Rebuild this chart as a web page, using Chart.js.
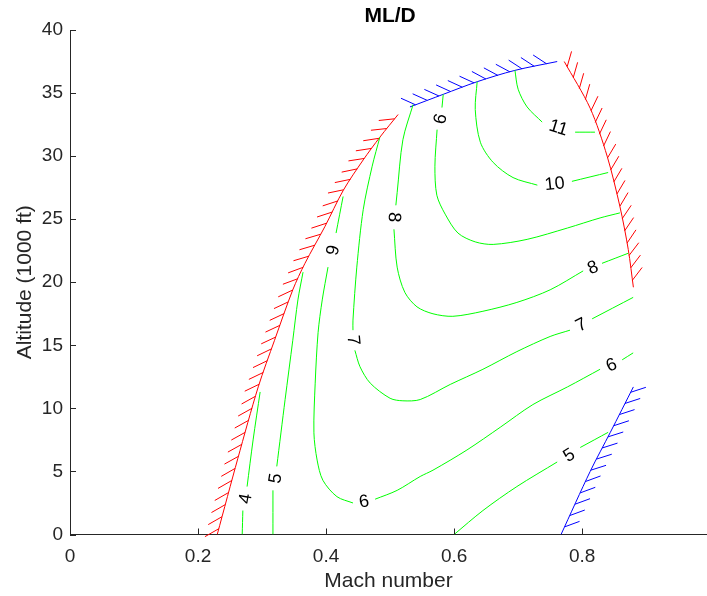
<!DOCTYPE html>
<html>
<head>
<meta charset="utf-8">
<script src="https://cdn.jsdelivr.net/npm/chart.js@4/dist/chart.umd.min.js"></script>
<style>
  html, body { margin: 0; padding: 0; background: #fff; }
</style>
</head>
<body>
<canvas id="chart" width="707" height="596"></canvas>
<script>
// tick values
const machTicks = [0, 0.2, 0.4, 0.6, 0.8];
const altTicks = [0, 5, 10, 15, 20, 25, 30, 35, 40];

// limit lines (hatched)
const stallMach = [0.23, 0.262, 0.294, 0.3195, 0.348, 0.367, 0.398, 0.427, 0.458, 0.484, 0.5125];
const stallAlt = [0, 6.0, 11.7, 15.4, 19.4, 21.5, 24.4, 27.3, 29.7, 31.5, 33.3];
const ceilingMach = [0.531, 0.583, 0.636, 0.695, 0.761];
const ceilingAlt = [33.9, 34.9, 35.9, 36.8, 37.5];
const buffetMach = [0.772, 0.8125, 0.839, 0.859, 0.872, 0.880];
const buffetAlt = [37.5, 33.8, 30.0, 26.0, 22.6, 19.6];
const qLimitMach = [0.880, 0.844, 0.8125, 0.767];
const qLimitAlt = [11.7, 8.1, 5.0, 0];

// ML/D contours (null = gap where the level label sits)
const c4Mach = [0.269, 0.270, null, 0.2766, 0.286, 0.297];
const c4Alt = [0, 1.9, null, 3.8, 7.5, 11.3];
const c5aMach = [0.317, 0.317, null, 0.323, 0.336, 0.348, 0.356, 0.364];
const c5aAlt = [0, 3.5, null, 5.4, 10.7, 15.4, 18.6, 20.8];
const c5bMach = [0.6, 0.645, 0.698, 0.761, null, 0.797, 0.8406];
const c5bAlt = [0, 1.9, 3.8, 5.75, null, 6.9, 8.1];
const c6Mach = [0.4266, 0.4156, null, 0.403, 0.394, 0.3875, 0.383, 0.381, 0.386, 0.395, 0.417, 0.442, null,
  0.4766, 0.511, 0.547, 0.567, 0.620, 0.672, 0.723, 0.777, 0.828, null, 0.8625, 0.8797];
const c6Alt = [26.8, 23.9, null, 21.2, 18.6, 16.0, 12.0, 8.06, 5.9, 4.3, 3.0, 2.5, null,
  2.8, 3.5, 4.6, 5.1, 6.7, 8.5, 10.3, 11.7, 13.1, null, 13.85, 14.4];
const c7Mach = [0.484, 0.472, 0.458, 0.448, 0.442, 0.442, null, 0.445, 0.453, 0.469, 0.5, 0.520, 0.547,
  0.594, 0.645, 0.698, 0.75, 0.781, null, 0.8156, 0.8797];
const c7Alt = [31.5, 29.2, 25.75, 21.2, 17.0, 16.2, null, 14.6, 13.3, 12.0, 10.8, 10.6, 10.7,
  11.9, 13.1, 14.5, 15.7, 16.2, null, 17.1, 18.8];
const c8Mach = [0.536, 0.520, 0.511, 0.509, null, 0.506, 0.511, 0.523, 0.542, 0.567, 0.598, 0.645,
  0.698, 0.75, 0.8016, null, 0.831, 0.872];
const c8Alt = [34.1, 31.3, 27.1, 26.1, null, 24.2, 21.2, 19.2, 18.05, 17.5, 17.3, 17.7,
  18.4, 19.4, 20.9, null, 21.5, 22.3];
const c9Mach = [0.583, 0.581, null, 0.5734, 0.570, 0.573, 0.586, 0.606, 0.633, 0.661, 0.714, 0.777, 0.828, 0.859];
const c9Alt = [34.9, 33.85, null, 32.1, 29.2, 26.9, 25.4, 23.9, 23.2, 23.0, 23.4, 24.3, 25.1, 25.5];
const c10Mach = [0.636, 0.633, 0.641, 0.661, 0.692, 0.730, null, 0.784, 0.8406];
const c10Alt = [35.9, 33.7, 31.1, 29.5, 28.3, 27.7, null, 28.0, 28.7];
const c11Mach = [0.695, 0.700, 0.714, 0.7375, null, 0.789, 0.820];
const c11Alt = [36.8, 35.3, 33.9, 32.7, null, 31.9, 31.9];

const FONT = '"Liberation Sans", Arial, Helvetica, sans-serif';
const AXIS = '#262626';

function pts(mach, alt) {
  return mach.map((m, i) => ({ x: m, y: alt[i] }));
}
function contour(mach, alt, level) {
  return { data: pts(mach, alt), level: level, borderColor: '#00ff00', borderWidth: 1,
    showLine: true, pointRadius: 0, fill: false, spanGaps: false, tension: 0.3 };
}
function limit(mach, alt, color) {
  return { data: pts(mach, alt), hatch: true, borderColor: color, borderWidth: 1,
    showLine: true, pointRadius: 0, fill: false, tension: 0.3 };
}

// hatch marks, contour labels, inward ticks and title
const decor = {
  id: 'decor',
  afterDatasetsDraw(chart) {
    const ctx = chart.ctx;
    const xs = chart.scales.x, ys = chart.scales.y;
    const step = 12.5, len = 16, ang = Math.PI / 4;

    chart.data.datasets.forEach((ds, i) => {
      const els = chart.getDatasetMeta(i).data;
      if (ds.hatch) {
        ctx.save();
        ctx.strokeStyle = ds.borderColor;
        ctx.lineWidth = 1;
        ctx.beginPath();
        let acc = 0, next = 6;
        for (let k = 0; k < els.length - 1; k++) {
          const p0 = els[k], p1 = els[k + 1];
          const dx = p1.x - p0.x, dy = p1.y - p0.y;
          const L = Math.hypot(dx, dy);
          const tx = -dx / L, ty = -dy / L;
          const hx = tx * Math.cos(ang) - ty * Math.sin(ang);
          const hy = tx * Math.sin(ang) + ty * Math.cos(ang);
          while (next <= acc + L) {
            const f = (next - acc) / L;
            const px = p0.x + dx * f, py = p0.y + dy * f;
            ctx.moveTo(px, py);
            ctx.lineTo(px + hx * len, py + hy * len);
            next += step;
          }
          acc += L;
        }
        ctx.stroke();
        ctx.restore();
      }
      if (ds.level !== undefined) {
        ds.data.forEach((d, k) => {
          if (d.y !== null) return;
          const a = els[k - 1], b = els[k + 1];
          const mx = (a.x + b.x) / 2, my = (a.y + b.y) / 2;
          ctx.save();
          ctx.translate(mx, my);
          ctx.rotate(Math.atan2(b.y - a.y, b.x - a.x));
          ctx.fillStyle = '#000';
          ctx.font = '18px ' + FONT;
          ctx.textAlign = 'center';
          ctx.textBaseline = 'middle';
          ctx.fillText(String(ds.level), 0, 1);
          ctx.restore();
        });
      }
    });

    // inward tick marks
    ctx.save();
    ctx.strokeStyle = AXIS;
    ctx.lineWidth = 1;
    ctx.beginPath();
    machTicks.forEach(v => {
      const x = Math.round(xs.getPixelForValue(v)) + 0.5;
      ctx.moveTo(x, ys.bottom);
      ctx.lineTo(x, ys.bottom - 6);
    });
    altTicks.forEach(v => {
      const y = Math.round(ys.getPixelForValue(v)) + 0.5;
      ctx.moveTo(xs.left, y);
      ctx.lineTo(xs.left + 6, y);
    });
    ctx.stroke();

    // title centred over the full axis box
    ctx.fillStyle = '#000';
    ctx.font = 'bold 21px ' + FONT;
    ctx.textAlign = 'center';
    ctx.textBaseline = 'middle';
    ctx.fillText('ML/D', (xs.left + xs.getPixelForValue(1.0)) / 2, 16);
    ctx.restore();
  }
};

new Chart(document.getElementById('chart'), {
  type: 'scatter',
  data: {
    datasets: [
      contour(c4Mach, c4Alt, 4),
      contour(c5aMach, c5aAlt, 5),
      contour(c5bMach, c5bAlt, 5),
      contour(c6Mach, c6Alt, 6),
      contour(c7Mach, c7Alt, 7),
      contour(c8Mach, c8Alt, 8),
      contour(c9Mach, c9Alt, 9),
      contour(c10Mach, c10Alt, 10),
      contour(c11Mach, c11Alt, 11),
      limit(stallMach, stallAlt, '#ff0000'),
      limit(ceilingMach, ceilingAlt, '#0000ff'),
      limit(buffetMach, buffetAlt, '#ff0000'),
      limit(qLimitMach, qLimitAlt, '#0000ff')
    ]
  },
  options: {
    responsive: false,
    animation: false,
    devicePixelRatio: 1,
    layout: { padding: { top: 30, right: 0, left: 0, bottom: 0 } },
    plugins: { legend: { display: false }, tooltip: { enabled: false }, title: { display: false } },
    scales: {
      x: {
        type: 'linear',
        min: 0,
        max: 0.995,
        afterBuildTicks: s => { s.ticks = machTicks.map(v => ({ value: v })); },
        afterFit: s => { s.height = 61.5; },
        grid: { display: false, drawTicks: false },
        border: { display: true, color: AXIS, width: 1 },
        ticks: {
          color: AXIS, padding: 11, maxRotation: 0,
          font: { family: FONT, size: 19 },
          callback: v => String(+v.toFixed(1))
        },
        title: {
          display: true, text: 'Mach number', color: AXIS,
          font: { family: FONT, size: 21 }, padding: { top: 0, bottom: 2 }
        }
      },
      y: {
        type: 'linear',
        min: 0,
        max: 40,
        afterBuildTicks: s => { s.ticks = altTicks.map(v => ({ value: v })); },
        afterFit: s => { s.width = 70; },
        grid: { display: false, drawTicks: false },
        border: { display: true, color: AXIS, width: 1 },
        ticks: {
          color: AXIS, padding: 7,
          font: { family: FONT, size: 19 }
        },
        title: {
          display: true, text: 'Altitude (1000 ft)', color: AXIS,
          font: { family: FONT, size: 21 }, padding: { top: 13, bottom: 0 }
        }
      }
    }
  },
  plugins: [decor]
});
</script>
</body>
</html>
